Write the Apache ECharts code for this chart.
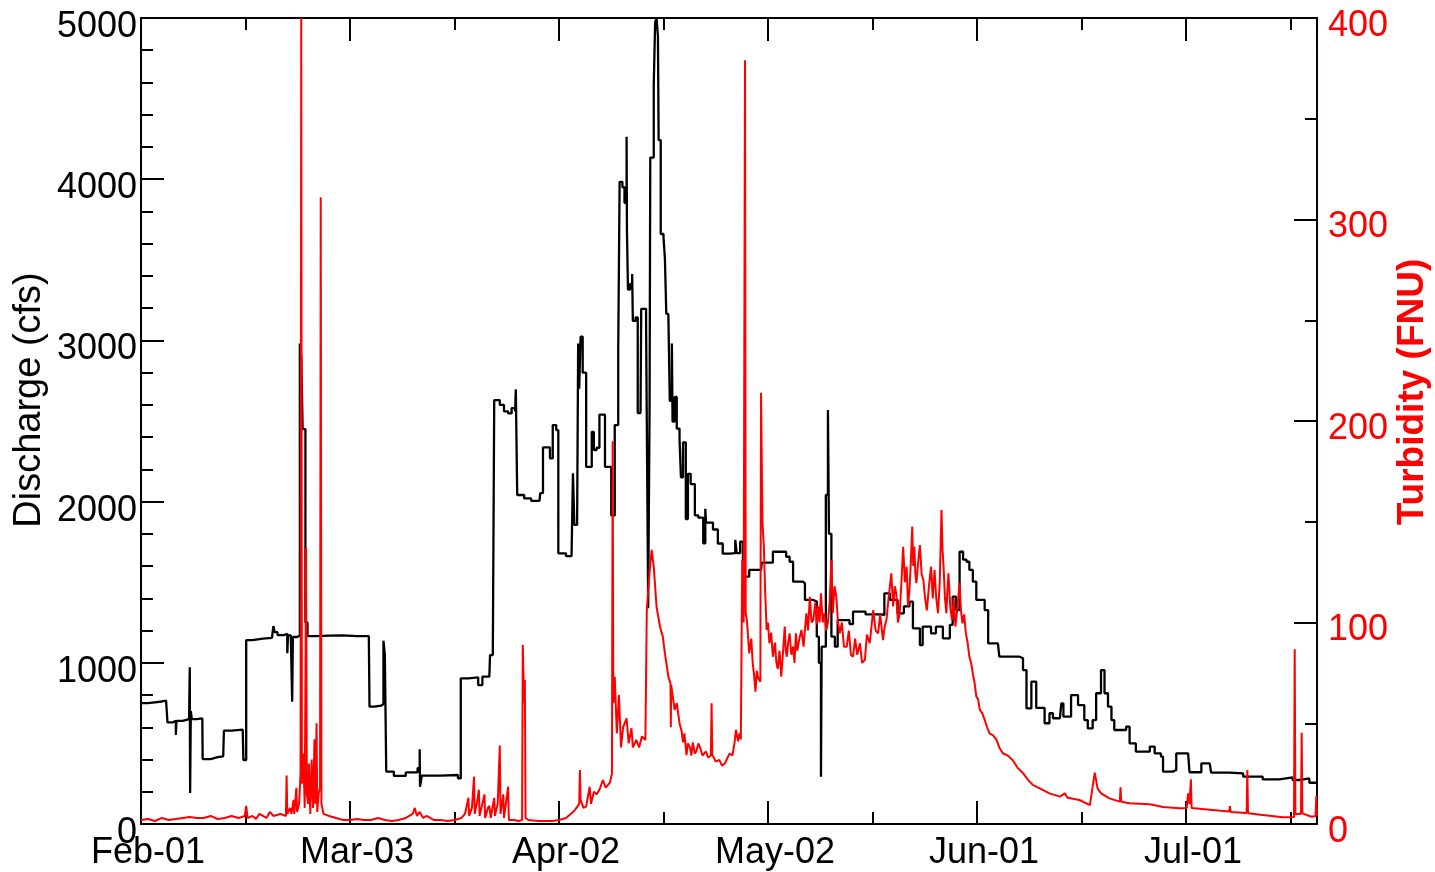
<!DOCTYPE html>
<html>
<head>
<meta charset="utf-8">
<script src="https://cdn.jsdelivr.net/npm/echarts@6/dist/echarts.min.js"></script>
<style>
html,body{margin:0;padding:0;background:#fff;}
#chart{width:1435px;height:872px;}
</style>
</head>
<body>
<div id="chart"></div>
<script>
// Day offsets are counted from Feb-01 00:00 (non-leap year)
const X_MAX = 168.8;
const X_TICK_LABELS = ['Feb-01', 'Mar-03', 'Apr-02', 'May-02', 'Jun-01', 'Jul-01'];
const Q_TICKS = [0, 1000, 2000, 3000, 4000, 5000];
const T_TICKS = [0, 100, 200, 300, 400];

// Discharge (cfs): [day, value]
const DISCHARGE = [
  [0,750],[1,755],[2,760],[3,765],[3.6,770],[3.8,630],[4.5,640],[5.0,552],[5.1,640],[6.0,650],[6.9,660],
  [7.0,973],[7.05,192],[7.15,700],[7.3,650],[8.0,655],[8.8,650],[8.85,403],[10,415],[11,420],[11.8,428],
  [11.9,579],[13,585],[14.6,597],[14.7,397],[15.1,1141],[16,1150],[17.5,1155],[18.8,1160],[19.0,1228],
  [19.2,1190],[19.6,1172],[20.5,1180],[21.0,1060],[21.1,1170],[21.5,1160],[21.7,758],[21.8,1160],[22.4,1170],
  [22.8,2980],[23.0,2900],[23.2,2450],[23.6,1250],[23.9,1165],[25,1168],[27,1170],[29,1165],[31,1165],
  [32.7,1160],[32.8,728],[33.5,735],[34.5,744],[34.8,1137],[35.0,1050],[35.2,325],[36.3,298],[38,320],
  [39.7,347],[40.0,463],[40.05,231],[40.3,300],[42,300],[43,304],[45.5,283],[45.9,904],[47,910],[48.4,862],
  [49,914],[50.0,920],[50.1,1048],[50.5,1060],[50.7,2630],[51.5,2600],[52.1,2560],[52.7,2547],[53.2,2580],
  [53.7,2560],[53.8,2696],[54.0,2041],[55,2020],[56,2005],[57.2,2010],[57.3,2053],[57.7,2337],[58.7,2268],
  [59.1,2475],[59.6,2444],[59.9,1679],[61.0,1662],[61.8,1670],[62.0,2175],[62.2,1855],[62.6,1886],
  [62.75,2981],[62.9,2700],[63.1,3024],[63.4,2800],[63.9,2215],[64.7,2432],[65.0,2320],[65.4,2334],
  [65.8,2539],[66.6,2215],[67.5,1914],[68.0,2475],[68.5,2948],[68.7,3984],[69.1,3950],[69.4,3854],
  [69.7,4263],[69.75,3681],[69.9,3315],[70.2,3350],[70.5,3412],[70.6,3121],[71.0,3143],[71.3,2549],
  [71.7,2549],[71.8,3196],[72.5,3121],[72.6,2500],[72.8,1338],[73.0,2600],[73.1,4134],[73.6,4587],
  [73.8,4975],[74.0,5000],[74.2,4888],[74.3,4243],[74.6,3660],[75.0,3638],[75.2,3509],[75.4,3164],
  [75.7,3145],[75.9,2625],[76.2,2981],[76.3,2496],[76.6,2649],[76.9,2453],[77.3,2388],[77.5,2151],
  [77.8,2367],[78.2,1892],[78.5,2172],[78.9,2109],[79.5,1914],[80.0,1900],[80.7,1741],[81.0,1956],
  [81.1,1870],[81.4,1870],[82.1,1827],[82.8,1740],[83.5,1677],[84.5,1680],[85.3,1763],[85.5,1680],
  [86.0,1751],[86.4,1534],[87.3,1576],[89.0,1576],[89.1,1621],[90.7,1689],[92.6,1658],[93.1,1627],
  [93.6,1503],[95.0,1492],[95.3,1390],[96.5,1380],[97.0,1162],[97.3,1000],[97.6,293],[97.7,1100],
  [98.3,2041],[98.6,2568],[98.75,1800],[99.1,1162],[99.6,1100],[100.0,1265],[101.7,1240],[102.2,1317],
  [104,1300],[106.3,1296],[106.7,1431],[107.5,1390],[108.6,1307],[109.5,1350],[110.3,1380],[110.8,1214],
  [111.8,1110],[112.2,1224],[113.4,1183],[114.1,1224],[115.1,1152],[116.1,1235],[116.5,1410],[117.0,1327],
  [117.5,1689],[118.0,1640],[118.5,1627],[118.9,1576],[119.4,1503],[119.9,1390],[121.1,1327],[121.6,1121],
  [123.0,1110],[123.2,1038],[126.1,1028],[126.6,955],[127.1,717],[127.8,883],[128.0,883],[128.5,720],
  [129.7,625],[130.4,687],[130.9,656],[131.9,645],[132.1,748],[132.4,666],[133.5,800],[134.5,738],
  [135.4,645],[135.9,593],[136.6,645],[137.1,811],[137.8,955],[138.3,811],[138.8,728],[139.3,645],
  [139.7,583],[141.4,604],[141.9,500],[142.8,449],[144.8,480],[145.5,438],[146.4,418],[146.7,325],
  [148.1,335],[148.6,438],[150.3,438],[150.5,321],[151.9,321],[152.2,376],[153.4,376],[153.6,319],
  [156.2,314],[158.2,294],[161.0,277],[163.4,289],[165.3,273],[166.3,283],[167.7,256],[168.8,256]
];

// Turbidity (FNU): [day, value]
const TURBIDITY = [
  [0,2],[1,2.5],[2,1.5],[3,3],[4,2],[5,2.5],[6,3],[7,3.5],[8,3],[9,3],[10,4],[11,2.5],[12,3],[13,4],[14,3],
  [14.9,4],[15.1,9],[15.3,3],[16,4],[16.5,2.5],[17,5],[18,3],[18.5,6],[19,4],[20,5],[20.8,4],[20.9,24],
  [21.0,5],[21.4,8],[21.6,5],[21.9,12],[22.0,5],[22.3,18],[22.4,6],[22.7,10],[22.9,25],[23.0,400],[23.1,20],
  [23.3,35],[23.5,8],[23.7,137],[23.8,15],[24.0,10],[24.1,30],[24.3,5],[24.5,32],[24.7,8],[24.9,42],[25.0,10],
  [25.2,50],[25.3,6],[25.5,15],[25.7,18],[25.8,311],[25.9,10],[26.2,5],[27,4],[28,3],[29,2],[30,2],[31,2.5],
  [32,2],[33,2],[34,3],[35,2],[36,1.5],[37,2],[38,3],[39,5],[39.3,8],[39.6,4],[40,6],[40.5,3],[41,4],[42,2],
  [43,2],[44,1.5],[45,2],[46,3],[46.5,5],[47.0,13],[47.1,4],[47.5,8],[47.8,23.5],[47.9,5],[48.3,12],[48.5,17],
  [48.6,4],[49.0,10],[49.3,14.7],[49.4,3],[49.8,8],[50.0,9],[50.2,3],[50.7,13],[50.8,4],[51.2,10],[51.5,39],
  [51.6,5],[52.0,14.7],[52.1,3],[52.7,18.5],[52.8,2],[53.5,2],[54.2,1.5],[54.7,2],[54.8,89],[55.0,60],
  [55.1,71.5],[55.2,3],[55.6,2],[57,1.5],[59,1.5],[60,2],[61,3],[61.8,5.3],[62.3,7],[62.9,10],[63.0,26.8],
  [63.1,12],[63.5,8],[63.9,8.6],[64.4,18.5],[64.6,10],[65.0,16],[65.4,14.7],[65.8,17],[66.3,21.8],[66.7,18],
  [67.3,20.5],[67.6,25],[67.7,190],[67.8,60],[68.0,73],[68.3,45],[68.6,64],[68.9,38],[69.2,48],[69.7,52.4],
  [70.0,40],[70.4,47.5],[70.6,38],[71.1,41.7],[71.5,38],[71.9,43.5],[72.4,41.7],[72.6,106],[73.0,125],
  [73.3,136],[73.6,127.7],[74.0,107.8],[74.5,97.9],[74.9,93],[75.2,84.7],[75.7,73],[76.0,69.8],[76.05,48],
  [76.1,69],[76.6,56.6],[76.9,60],[77.3,50],[77.6,46],[77.8,40.5],[78.0,45],[78.3,34.2],[78.5,40],[78.8,38],
  [79.0,34],[79.2,40.5],[79.5,35],[79.7,36],[80.0,40],[80.2,38.4],[80.6,34],[81.1,36],[81.4,33],[81.8,34],
  [81.9,59.9],[82.0,34.2],[82.5,31],[83.0,31.8],[83.4,29],[83.8,30],[84.2,33],[84.5,35],[84.9,34],[85.2,40.5],
  [85.4,46.7],[85.7,41],[85.9,45],[86.1,42],[86.3,131],[86.5,100],[86.7,379],[86.8,104.6],[87.0,100],
  [87.3,84.7],[87.6,92],[87.8,80],[88.0,74],[88.2,65.7],[88.4,76],[88.6,72.4],[88.9,70.6],[89.0,214],
  [89.2,150],[89.4,137.6],[89.6,114.5],[89.8,96.3],[90.0,100],[90.2,89.7],[90.45,95],[90.7,83],[91.0,90],
  [91.2,80],[91.4,77],[91.65,86],[91.9,73.1],[92.15,85],[92.4,98],[92.55,86],[92.7,83],[92.9,90],[93.1,94.6],
  [93.35,84],[93.6,88],[93.8,80],[94.0,94.6],[94.2,86],[94.5,92],[94.8,96.3],[95.1,88],[95.5,104.6],
  [95.75,96],[96.0,112.8],[96.25,100],[96.5,101.3],[96.8,110],[97.0,99],[97.2,108],[97.4,100],[97.6,114.5],
  [97.85,100],[98.1,104.6],[98.35,96],[98.6,100],[98.85,110],[99.1,131],[99.3,104.6],[99.55,118],[99.8,112.8],
  [100.05,100],[100.3,94.6],[100.6,100],[100.9,88],[101.3,88],[101.6,96],[101.9,84],[102.2,83],[102.5,92],
  [102.8,84],[103.2,89.7],[103.5,80],[103.9,81.4],[104.2,94],[104.6,89.7],[104.85,98],[105.1,106.2],
  [105.45,96],[105.8,94.6],[106.1,104],[106.5,91.3],[106.75,98],[107.0,101.3],[107.3,112],[107.7,124.4],
  [107.95,108],[108.2,118],[108.4,114.5],[108.65,100],[108.9,104.6],[109.15,120],[109.4,137.6],[109.65,120],
  [109.9,127.7],[110.1,108],[110.3,116.1],[110.5,130],[110.7,147.6],[110.85,128],[111.0,137.6],[111.15,124],
  [111.3,119.5],[111.55,130],[111.8,138.4],[112.05,124],[112.3,121],[112.55,112],[112.8,106],[113.1,118],
  [113.4,127.7],[113.65,112],[113.9,126],[114.15,112],[114.4,104.6],[114.65,120],[114.9,155.8],[115.05,136],
  [115.2,127.7],[115.4,112],[115.6,104.6],[115.75,116],[115.9,124.4],[116.15,108],[116.4,101.3],[116.65,112],
  [116.9,98],[117.2,108],[117.5,119.5],[117.7,106],[117.9,99.6],[118.15,104],[118.4,94.6],[118.65,90],
  [118.9,83],[119.15,80],[119.4,74.7],[119.65,70],[119.9,63.2],[120.15,62],[120.4,56.6],[120.75,55],
  [121.1,51.6],[121.45,48],[121.8,45],[122.3,44],[122.8,41.7],[123.2,38],[123.7,35.1],[124.4,34],[125.1,31.8],
  [125.8,28],[126.6,25.2],[127.3,22],[128.0,19.4],[129.0,17.7],[130.4,15.2],[131.9,13.6],[132.6,15.2],
  [133.0,13],[134.7,11.9],[136.2,9.4],[136.9,25.5],[137.3,17.7],[137.8,15.2],[139.0,12.7],[140.5,11.1],
  [140.6,18.2],[140.7,11],[141.9,10.3],[144.8,9.8],[146.7,8.4],[149.1,7.8],[150.1,8],[150.3,15.2],[150.5,10],
  [150.7,22.2],[150.8,8],[151.0,7.8],[153.8,7],[156.2,6.2],[156.3,8.9],[156.4,6],[158.7,5.5],[158.8,26.8],
  [158.9,5.3],[161.0,4.5],[163.9,3.3],[165.5,3.5],[165.6,86.7],[165.7,5],[166.5,5],[166.6,45.3],[166.7,5.3],
  [168.0,3.6],[168.6,4],[168.7,13.9],[168.8,4]
];

const FONT = '"Liberation Sans", Arial, Helvetica, sans-serif';
const chart = echarts.init(document.getElementById('chart'), null, {renderer: 'canvas'});

function xAxisDef(pos, interval, len, withLine, withLabel) {
  return {
    type: 'value', position: pos, min: 0, max: X_MAX, interval: interval,
    axisLine: {show: withLine, onZero: false, lineStyle: {color: '#000', width: 2}},
    axisTick: {show: true, inside: true, length: len, lineStyle: {color: '#000', width: 2}},
    axisLabel: withLabel ? {
      show: true, margin: 11, color: '#000', fontSize: 36, fontFamily: FONT,
      padding: [0, 0, 0, 14], showMaxLabel: false, hideOverlap: false,
      formatter: v => (Math.abs(v % 30) < 1e-6 && X_TICK_LABELS[Math.round(v / 30)]) ? X_TICK_LABELS[Math.round(v / 30)] : ''
    } : {show: false},
    splitLine: {show: false}
  };
}

chart.setOption({
  animation: false,
  backgroundColor: '#fff',
  grid: {left: 141, right: 118, top: 18, bottom: 48, containLabel: false},
  xAxis: [
    xAxisDef('bottom', 30, 23, true, true),
    xAxisDef('bottom', 15, 12, false, false),
    xAxisDef('top', 30, 23, true, false),
    xAxisDef('top', 15, 12, false, false)
  ],
  yAxis: [
    {
      type: 'value', position: 'left', min: Q_TICKS[0], max: Q_TICKS[Q_TICKS.length - 1], interval: 1000,
      axisLine: {show: true, onZero: false, lineStyle: {color: '#000', width: 2}},
      axisTick: {show: true, inside: true, length: 23, lineStyle: {color: '#000', width: 2}},
      minorTick: {show: true, splitNumber: 5, length: 12, lineStyle: {color: '#000', width: 2}},
      axisLabel: {margin: 4, color: '#000', fontSize: 36, fontFamily: FONT, verticalAlign: 'top', lineHeight: 18,
        hideOverlap: false, formatter: v => String(v)},
      splitLine: {show: false}, minorSplitLine: {show: false}
    },
    {
      type: 'value', position: 'right', min: T_TICKS[0], max: T_TICKS[T_TICKS.length - 1], interval: 100,
      axisLine: {show: true, onZero: false, lineStyle: {color: '#1a0000', width: 2}},
      axisTick: {show: true, inside: true, length: 23, lineStyle: {color: '#000', width: 2}},
      minorTick: {show: true, splitNumber: 2, length: 12, lineStyle: {color: '#000', width: 2}},
      axisLabel: {margin: 11, color: '#ff0000', fontSize: 36, fontFamily: FONT, verticalAlign: 'top', lineHeight: 16,
        hideOverlap: false, formatter: v => String(v)},
      splitLine: {show: false}, minorSplitLine: {show: false}
    }
  ],
  series: [
    {
      name: 'Discharge', type: 'line', xAxisIndex: 0, yAxisIndex: 0, data: DISCHARGE,
      showSymbol: false, symbol: 'none', clip: true, step: 'end',
      lineStyle: {color: '#000', width: 2.3}, z: 2
    },
    {
      name: 'Turbidity', type: 'line', xAxisIndex: 0, yAxisIndex: 1, data: TURBIDITY,
      showSymbol: false, symbol: 'none', clip: true,
      lineStyle: {color: '#ff0000', width: 2}, z: 3
    }
  ],
  graphic: [
    {
      type: 'text', x: 30, y: 400, rotation: Math.PI / 2,
      style: {text: 'Discharge (cfs)', fill: '#000', font: '38px ' + FONT,
        align: 'center', verticalAlign: 'middle', textAlign: 'center', textVerticalAlign: 'middle'}
    },
    {
      type: 'text', x: 1413, y: 392, rotation: Math.PI / 2,
      style: {text: 'Turbidity (FNU)', fill: '#ff0000', font: 'bold 37px ' + FONT,
        align: 'center', verticalAlign: 'middle', textAlign: 'center', textVerticalAlign: 'middle'}
    }
  ]
});
</script>
</body>
</html>
